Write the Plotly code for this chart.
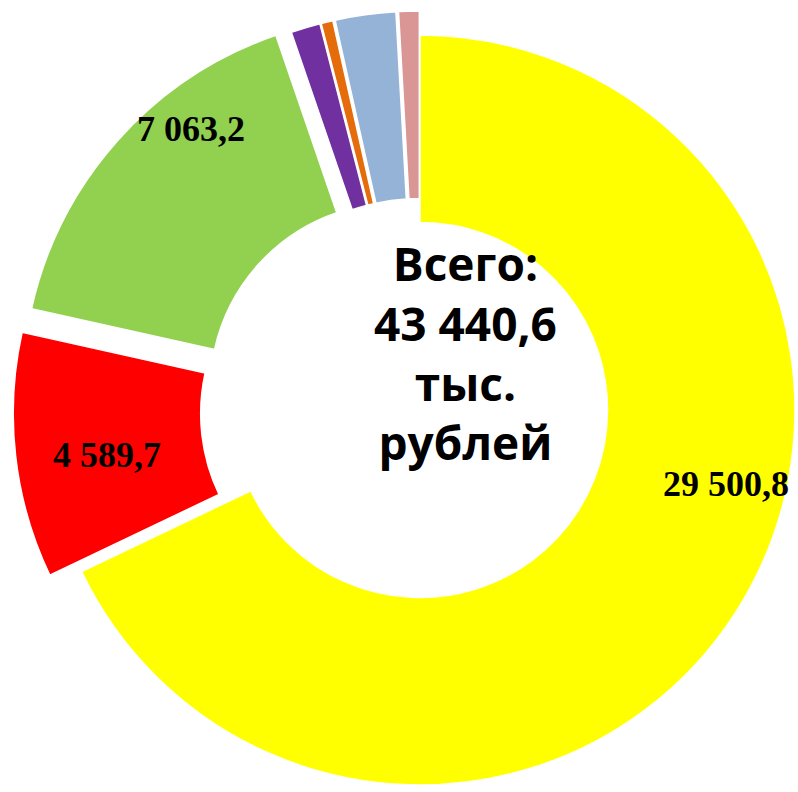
import numpy as np
import plotly.graph_objects as go

# Values, thousands of roubles
labels = ["Yellow", "Red", "Green", "Purple", "Orange", "Light blue", "Pink"]
values = [29500.8, 4589.7, 7063.2, 550.0, 220.0, 1133.0, 383.9]
colors = ["#FFFF00", "#FF0000", "#92D050", "#7030A0", "#E46C0A", "#95B3D7", "#D99694"]
shown_labels = ["29 500,8", "4 589,7", "7 063,2", "", "", "", ""]
center_text = ["Всего:", "43 440,6", "тыс.", "рублей"]

W, H = 798, 792
CX, CY, R = 420, 410, 375          # centre / outer radius of the un-exploded ring (px)
HOLE = 0.5
explode_px = [0, 32, 30, 24, 24, 24, 24]

# label positions in px
label_pos = [(726, 484), (107, 455), (191, 129)]

total = sum(values)
cum = np.cumsum([0] + values)
mid_angle = np.radians(360 * (cum[:-1] + cum[1:]) / 2 / total)

fig = go.Figure()
n = len(values)
for i in range(n):
    # each slice gets its own trace so it can be pushed out without shrinking the ring
    dx = explode_px[i] * np.sin(mid_angle[i])
    dy = -explode_px[i] * np.cos(mid_angle[i])
    cx, cy = CX + dx, CY + dy
    mc = ["rgba(0,0,0,0)"] * n
    lc = ["rgba(0,0,0,0)"] * n
    mc[i] = colors[i]
    lc[i] = "white"
    fig.add_trace(go.Pie(
        labels=labels, values=values, sort=False, direction="clockwise", rotation=0,
        hole=HOLE, textinfo="none", hoverinfo="skip", showlegend=False,
        marker=dict(colors=mc, line=dict(color=lc, width=1.5)),
        domain=dict(x=[(cx - R) / W, (cx + R) / W], y=[1 - (cy + R) / H, 1 - (cy - R) / H]),
    ))

for (px, py), txt in zip(label_pos, shown_labels):
    fig.add_annotation(
        x=px / W, y=1 - py / H, xref="paper", yref="paper", xanchor="center", yanchor="middle",
        text=f"<b>{txt}</b>", showarrow=False,
        font=dict(family="Liberation Serif", size=36, color="black"),
    )

fig.add_annotation(
    x=465 / W, y=1 - 352 / H, xref="paper", yref="paper", xanchor="center", yanchor="middle",
    text="<br>".join(f"<b>{t}</b>" for t in center_text),
    showarrow=False, font=dict(family="Open Sans", size=46, color="black"),
)

fig.update_layout(
    width=W, height=H, margin=dict(l=0, r=0, t=0, b=0),
    paper_bgcolor="white", plot_bgcolor="white",
)

fig.write_html("out.html", config={"displayModeBar": False},
               post_script="document.body.style.margin = '0';")
